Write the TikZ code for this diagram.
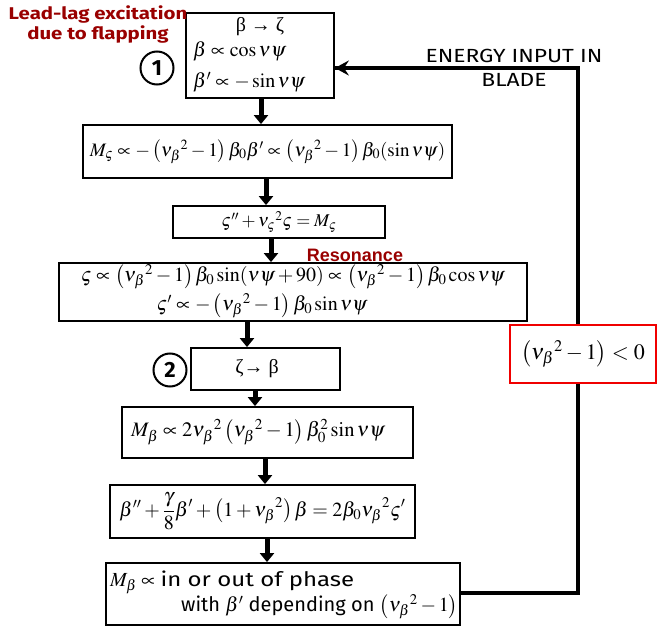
\documentclass[tikz,border=0pt]{standalone}
\usepackage{mathptmx}
\usepackage[no-math]{fontspec}
\setmainfont{Liberation Serif}
\newfontfamily\comic{Fira Sans}
\newfontfamily\comicw[FakeStretch=1.2]{Fira Sans}
\newfontfamily\arialb{Liberation Sans}
\usetikzlibrary{arrows.meta,calc}
\definecolor{darkred}{RGB}{153,0,0}
\definecolor{brightred}{RGB}{240,0,0}
\tikzset{
  box/.style={draw=black,line width=1.8pt,fill=white,inner sep=0pt},
  blk/.style={line width=5pt,-{Triangle[length=9pt,width=14pt]}},
  fb/.style={line width=4.5pt},
  eq/.style={inner sep=0pt,font=\fontsize{20}{22}\selectfont},
  num/.style={draw,circle,line width=2pt,minimum size=33pt,inner sep=0pt,font=\comic\bfseries\fontsize{22}{22}\selectfont},
}
\begin{document}
\begin{tikzpicture}[x=1pt,y=-1pt]
\useasboundingbox (0,0) rectangle (670,626);
% feedback loop (drawn first, behind)
\node[box,minimum width=148pt,minimum height=85pt] (b1) at (260,55.5) {};
\node[box,minimum width=354pt,minimum height=62pt] (b8) at (283,594) {};
\coordinate (c1) at (578,593);
\coordinate (c2) at (578,68);
\draw[fb,line join=miter] (b8.east |- c1) -- (c1) -- (c2) -- (b1.east |- c2);
\draw[line width=4.5pt,-{Stealth[length=14pt,width=15pt,inset=5pt]}] (c2) -- (b1.east |- c2);
\node[font=\comicw\fontsize{19}{22}\selectfont,inner sep=0pt] (en1) at (514,56) {ENERGY INPUT IN};
\node[font=\comicw\fontsize{19}{22}\selectfont,inner sep=0pt] (en2) at (514,80) {BLADE};
% boxes
\node[box,minimum width=369pt,minimum height=53pt] (b2) at (267.5,151.5) {};
\node[box,minimum width=212pt,minimum height=32pt] (b3) at (279,222) {};
\node[box,minimum width=468pt,minimum height=58pt] (b4) at (293,292) {};
\node[box,minimum width=149pt,minimum height=42pt] (b5) at (265.5,369) {};
\node[box,minimum width=291pt,minimum height=51pt] (b6) at (267.5,432.5) {};
\node[box,minimum width=305pt,minimum height=53pt] (b7) at (262.5,511.5) {};
\node[draw=brightred,line width=2.8pt,fill=white,minimum width=146pt,minimum height=58pt,inner sep=0pt] (rb) at (583,354) {};
% arrows
\draw[blk] ([xshift=1pt]b1.south) -- ([xshift=1pt]b1.south |- b2.north);
\draw[blk] ([xshift=-1.5pt]b2.south) -- ([xshift=-1.5pt]b2.south |- b3.north);
\draw[blk] ([xshift=-8pt]b3.south) -- ([xshift=-8pt]b3.south |- b4.north);
\draw[blk] ([xshift=-46pt]b4.south) -- ([xshift=-46pt]b4.south |- b5.north);
\draw[blk] ([xshift=-10.5pt]b5.south) -- ([xshift=-10.5pt]b5.south |- b6.north);
\draw[blk] ([xshift=-2.5pt]b6.south) -- ([xshift=-2.5pt]b6.south |- b7.north);
\draw[blk] ([xshift=4.5pt]b7.south) -- ([xshift=4.5pt]b7.south |- b8.north);
% labels
\node[font=\comicw\bfseries\fontsize{17}{20}\selectfont,text=darkred,align=center,inner sep=0pt] (lead) at (98,24) {Lead-lag excitation\\due to flapping};
\node[font=\arialb\bfseries\fontsize{18}{20}\selectfont,text=darkred,inner sep=0pt] (res) at (355,255) {Resonance};
\node[num] (n1) at (157,68) {1};
\node[num] (n2) at (170,370) {2};
% box 1 text
\node[eq] (t1a) at (260,27) {β → ζ};
\node[eq,anchor=west] (t1b) at (193,51) {$\beta\propto\cos\nu\psi$};
\node[eq,anchor=west] (t1c) at (193,82) {$\beta'\propto-\sin\nu\psi$};
% box 2
\node[eq,font=\fontsize{19}{22}\selectfont] (t2) at (b2) {$M_\varsigma\propto-\left(\nu_\beta{}^2-1\right)\beta_0\beta'\propto\left(\nu_\beta{}^2-1\right)\beta_0(\sin\nu\psi)$};
% box 3
\node[eq,font=\fontsize{18}{20}\selectfont] (t3) at (b3) {$\varsigma''+\nu_\varsigma{}^2\varsigma=M_\varsigma$};
% box 4
\node[eq] (t4a) at (293,277) {$\varsigma\propto\left(\nu_\beta{}^2-1\right)\beta_0\sin(\nu\psi+90)\propto\left(\nu_\beta{}^2-1\right)\beta_0\cos\nu\psi$};
\node[eq] (t4b) at (262,306) {$\varsigma'\propto-\left(\nu_\beta{}^2-1\right)\beta_0\sin\nu\psi$};
% box 5
\node[eq] (t5) at (257,369) {ζ→ β};
% box 6
\node[eq,font=\fontsize{20.5}{22}\selectfont,anchor=west] (t6) at (131,432) {$M_\beta\propto2\nu_\beta{}^2\left(\nu_\beta{}^2-1\right)\beta_0^2\sin\nu\psi$};
% box 7
\node[eq] (t7) at (b7) {$\beta''+\displaystyle\frac{\gamma}{8}\beta'+\left(1+\nu_\beta{}^2\right)\beta=2\beta_0\nu_\beta{}^2\varsigma'$};
% box 8
\node[eq,anchor=west] (t8a) at (110,582) {$M_\beta\propto$ \comicw in or out of phase};
\node[eq,anchor=west] (t8b) at (181,607) {\comic with $\beta'$ depending on $\left(\nu_\beta{}^2-1\right)$};
% red box
\node[eq,font=\fontsize{22}{24}\selectfont] (t9) at (rb) {$\left(\nu_\beta{}^2-1\right)<0$};
\end{tikzpicture}
\end{document}
